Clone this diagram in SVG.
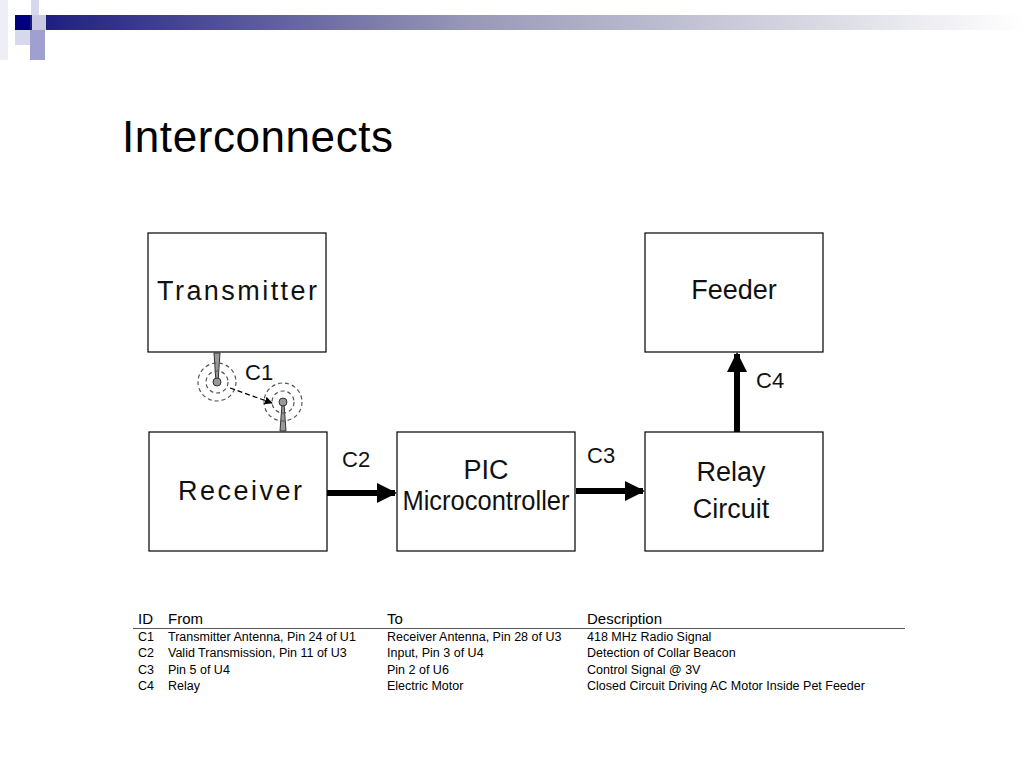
<svg xmlns="http://www.w3.org/2000/svg" width="1024" height="768" viewBox="0 0 1024 768">
<defs>
<linearGradient id="bar" x1="0" x2="1" y1="0" y2="0">
<stop offset="0" stop-color="#1a1a80"/><stop offset="0.45" stop-color="#9a9ab8"/><stop offset="1" stop-color="#ffffff"/>
</linearGradient>
<marker id="ah" viewBox="0 0 10 10" refX="9" refY="5" markerWidth="20" markerHeight="20" orient="auto" markerUnits="userSpaceOnUse"><path d="M0,0L10,5L0,10z" fill="#000"/></marker>
<marker id="sm" viewBox="0 0 10 10" refX="9" refY="5" markerWidth="8" markerHeight="8" orient="auto" markerUnits="userSpaceOnUse"><path d="M0,0L10,5L0,10z" fill="#000"/></marker>
</defs>
<style>
.box{fill:#fff;stroke:#000;stroke-width:1.2}
.lbl{font-family:"Liberation Sans",Arial,sans-serif;font-size:27px;fill:#111;text-anchor:middle}
.cl{font-family:"Liberation Sans",Arial,sans-serif;font-size:22px;fill:#111}
.th{font-family:"Liberation Sans",Arial,sans-serif;font-size:15px;fill:#000}
.td{font-family:"Liberation Sans",Arial,sans-serif;font-size:12.5px;fill:#000}
.ring{fill:none;stroke:#555;stroke-width:1.2;stroke-dasharray:4 3}
</style>
<rect width="1024" height="768" fill="#fff"/>
<rect x="30" y="15" width="994" height="15" fill="url(#bar)"/>
<rect x="15" y="15" width="15" height="15" fill="#000080"/>
<rect x="31" y="0" width="8" height="15" fill="#d8d8ec"/>
<rect x="32" y="15" width="14" height="15" fill="#c8c8e0"/>
<rect x="15" y="30" width="15" height="15" fill="#d8d8ec"/>
<rect x="30" y="30" width="15" height="15" fill="#a0a0d0"/>
<rect x="30" y="45" width="15" height="15" fill="#a0a0d0"/>
<rect x="0" y="0" width="8" height="60" fill="#eeeef6"/>
<text x="122" y="152" font-family="Liberation Sans,Arial,sans-serif" font-size="44" fill="#000" textLength="271">Interconnects</text>

<g id="transmitter"><rect class="box" x="148" y="233" width="178" height="119"/><text class="lbl" x="237" y="300" textLength="160">Transmitter</text></g>
<g id="feeder"><rect class="box" x="645" y="233" width="178" height="119"/><text class="lbl" x="734" y="299">Feeder</text></g>
<g id="receiver"><rect class="box" x="149" y="432" width="178" height="119"/><text class="lbl" x="240" y="500" textLength="124">Receiver</text></g>
<g id="pic"><rect class="box" x="397" y="432" width="178" height="119"/><text class="lbl" x="486" y="479" font-size="24">PIC</text><text class="lbl" x="486" y="510" font-size="23" textLength="167" lengthAdjust="spacingAndGlyphs">Microcontroller</text></g>
<g id="relay"><rect class="box" x="645" y="432" width="178" height="119"/><text class="lbl" x="731" y="481">Relay</text><text class="lbl" x="731" y="518">Circuit</text></g>

<g id="connectors">
<polygon points="214,353 220,353 218,382 216,382" fill="#999" stroke="#333" stroke-width="1"/>
<circle cx="217" cy="382" r="4" fill="#999" stroke="#333"/>
<circle class="ring" cx="217" cy="382" r="11"/>
<circle class="ring" cx="217" cy="382" r="19"/>
<polygon points="280,431 286,431 284,404 282,404" fill="#999" stroke="#333" stroke-width="1"/>
<circle cx="283" cy="402" r="4" fill="#999" stroke="#333"/>
<circle class="ring" cx="283" cy="402" r="11"/>
<circle class="ring" cx="283" cy="402" r="19"/>
<line x1="230" y1="388" x2="272" y2="403" stroke="#000" stroke-width="1.3" stroke-dasharray="5 3" marker-end="url(#sm)"/>
<text class="cl" x="245" y="380">C1</text>
<line x1="327" y1="493" x2="395" y2="493" stroke="#000" stroke-width="6" marker-end="url(#ah)"/>
<text class="cl" x="342" y="467">C2</text>
<line x1="576" y1="491" x2="643" y2="491" stroke="#000" stroke-width="6" marker-end="url(#ah)"/>
<text class="cl" x="587" y="463">C3</text>
<line x1="737" y1="432" x2="737" y2="354" stroke="#000" stroke-width="6" marker-end="url(#ah)"/>
<text class="cl" x="756" y="388">C4</text>
</g>

<g id="table">
<text class="th" x="138" y="624">ID</text><text class="th" x="168" y="624">From</text><text class="th" x="387" y="624">To</text><text class="th" x="587" y="624">Description</text>
<line x1="133" y1="628.5" x2="905" y2="628.5" stroke="#555" stroke-width="1"/>
<text class="td" x="138" y="641">C1</text><text class="td" x="168" y="641">Transmitter Antenna, Pin 24 of U1</text><text class="td" x="387" y="641">Receiver Antenna, Pin 28 of U3</text><text class="td" x="587" y="641">418 MHz Radio Signal</text>
<text class="td" x="138" y="657">C2</text><text class="td" x="168" y="657">Valid Transmission, Pin 11 of U3</text><text class="td" x="387" y="657">Input, Pin 3 of U4</text><text class="td" x="587" y="657">Detection of Collar Beacon</text>
<text class="td" x="138" y="674">C3</text><text class="td" x="168" y="674">Pin 5 of U4</text><text class="td" x="387" y="674">Pin 2 of U6</text><text class="td" x="587" y="674">Control Signal @ 3V</text>
<text class="td" x="138" y="690">C4</text><text class="td" x="168" y="690">Relay</text><text class="td" x="387" y="690">Electric Motor</text><text class="td" x="587" y="690">Closed Circuit Driving AC Motor Inside Pet Feeder</text>
</g>
</svg>
